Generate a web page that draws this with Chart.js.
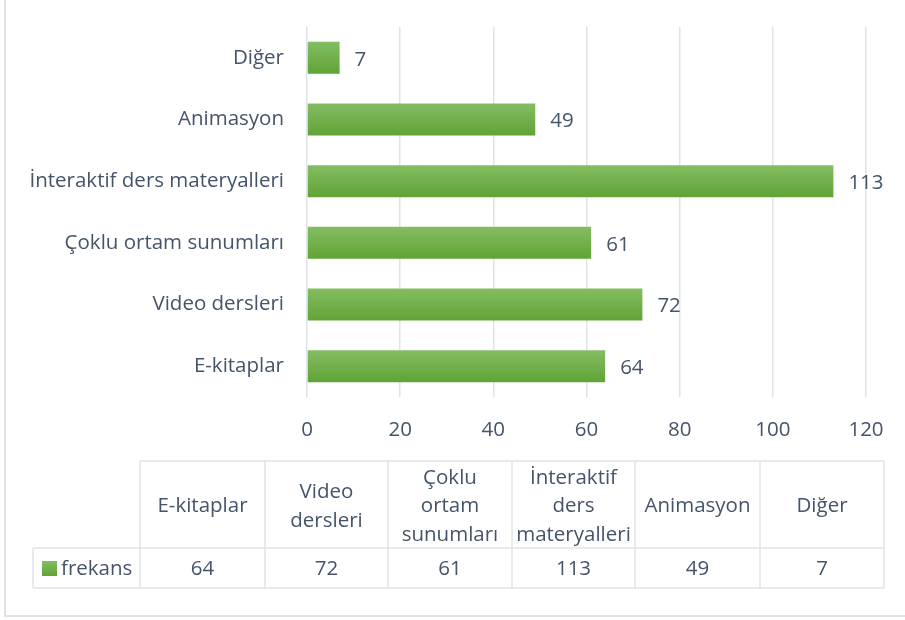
<!DOCTYPE html>
<html>
<head>
<meta charset="utf-8">
<script src="https://cdn.jsdelivr.net/npm/chart.js@4.4.1/dist/chart.umd.min.js"></script>
<style>
  html, body { margin: 0; padding: 0; background: #fff; }
  #wrap { position: relative; width: 905px; height: 620px; }
</style>
</head>
<body>
<div id="wrap"><canvas id="chart" width="905" height="620"></canvas></div>
<script>
// data
const categories = ['E-kitaplar', 'Video dersleri', 'Çoklu ortam sunumları', 'İnteraktif ders materyalleri', 'Animasyon', 'Diğer'];
const frekans = [64, 72, 61, 113, 49, 7];
const seriesName = 'frekans';
const tableHeaders = [['E-kitaplar'], ['Video', 'dersleri'], ['Çoklu', 'ortam', 'sunumları'], ['İnteraktif', 'ders', 'materyalleri'], ['Animasyon'], ['Diğer']];
const xTicks = [0, 20, 40, 60, 80, 100, 120];

const FONT = '"Open Sans", Lato, sans-serif';
const FSIZE = 20.5;
const TEXT = '#44546a';
const GRID = '#dfe3ea';

function barFill(ctx) {
    const chart = ctx.chart;
    const y = chart.scales.y;
    if (!y || ctx.dataIndex === undefined) return '#70ad47';
    const c = y.getPixelForValue(ctx.dataIndex);
    if (!isFinite(c)) return '#70ad47';
    const g = chart.ctx.createLinearGradient(0, c - 16, 0, c + 16);
    g.addColorStop(0, '#84bd62');
    g.addColorStop(1, '#60a336');
    return g;
}

// value labels, data table and outer frame
const extras = {
    id: 'extras',
    afterDatasetsDraw(chart) {
        const c = chart.ctx;
        const meta = chart.getDatasetMeta(0);
        c.save();
        c.font = FSIZE + 'px ' + FONT;
        c.fillStyle = TEXT;
        c.textAlign = 'left';
        c.textBaseline = 'middle';
        meta.data.forEach((bar, i) => {
            c.fillText(String(frekans[i]), bar.x + 15, bar.y + 2);
        });
        c.restore();
    },
    afterDraw(chart) {
        const c = chart.ctx;
        const cols = [140, 265, 388, 512, 635, 760, 884];
        const top = 461, mid = 548, bot = 588, left = 33;
        c.save();
        c.strokeStyle = GRID;
        c.lineWidth = 1.5;
        c.beginPath();
        // horizontal lines
        c.moveTo(cols[0], top); c.lineTo(cols[6], top);
        c.moveTo(left, mid); c.lineTo(cols[6], mid);
        c.moveTo(left, bot); c.lineTo(cols[6], bot);
        // verticals
        cols.forEach(x => { c.moveTo(x, top); c.lineTo(x, bot); });
        c.moveTo(left, mid); c.lineTo(left, bot);
        c.stroke();

        c.font = FSIZE + 'px ' + FONT;
        c.fillStyle = TEXT;
        c.textAlign = 'center';
        c.textBaseline = 'middle';
        const lh = 28.5;
        tableHeaders.forEach((lines, i) => {
            const cx = (cols[i] + cols[i + 1]) / 2;
            const cy = (top + mid) / 2 + 2;
            const y0 = cy - (lines.length - 1) * lh / 2;
            lines.forEach((t, k) => c.fillText(t, cx, y0 + k * lh));
            c.fillText(String(frekans[i]), cx, (mid + bot) / 2 + 1);
        });
        // legend key
        const g = c.createLinearGradient(0, 561, 0, 576);
        g.addColorStop(0, '#84bd62');
        g.addColorStop(1, '#60a336');
        c.fillStyle = g;
        c.fillRect(42, 561, 15, 15);
        c.fillStyle = TEXT;
        c.textAlign = 'left';
        c.fillText(seriesName, 61, (mid + bot) / 2 + 1);

        // outer frame (left and bottom edges visible)
        c.strokeStyle = '#dfe3ea';
        c.lineWidth = 2;
        c.beginPath();
        c.moveTo(5, 0); c.lineTo(5, 616); c.lineTo(905, 616);
        c.stroke();
        c.restore();
    }
};

new Chart(document.getElementById('chart'), {
    type: 'bar',
    data: {
        labels: categories,
        datasets: [{
            label: seriesName,
            data: frekans,
            backgroundColor: barFill,
            borderWidth: 0,
            barPercentage: 0.52,
            categoryPercentage: 1
        }]
    },
    options: {
        indexAxis: 'y',
        responsive: false,
        animation: false,
        devicePixelRatio: 1,
        layout: { padding: { top: 27, right: 39, bottom: 163, left: 0 } },
        plugins: { legend: { display: false }, tooltip: { enabled: false } },
        scales: {
            x: {
                min: 0,
                max: 120,
                afterBuildTicks: s => { s.ticks = xTicks.map(v => ({ value: v })); },
                afterFit: s => { s.height = 60; },
                grid: { color: GRID, lineWidth: 1.5, drawTicks: false },
                border: { display: false },
                ticks: { color: TEXT, font: { family: FONT, size: FSIZE }, padding: 21, maxRotation: 0 }
            },
            y: {
                reverse: true,
                afterFit: s => { s.width = 307; s.paddingTop = 0; s.paddingBottom = 0; },
                grid: { display: false, drawTicks: false },
                border: { display: false },
                ticks: { color: TEXT, font: { family: FONT, size: FSIZE }, padding: 23 }
            }
        }
    },
    plugins: [extras]
});
</script>
</body>
</html>
